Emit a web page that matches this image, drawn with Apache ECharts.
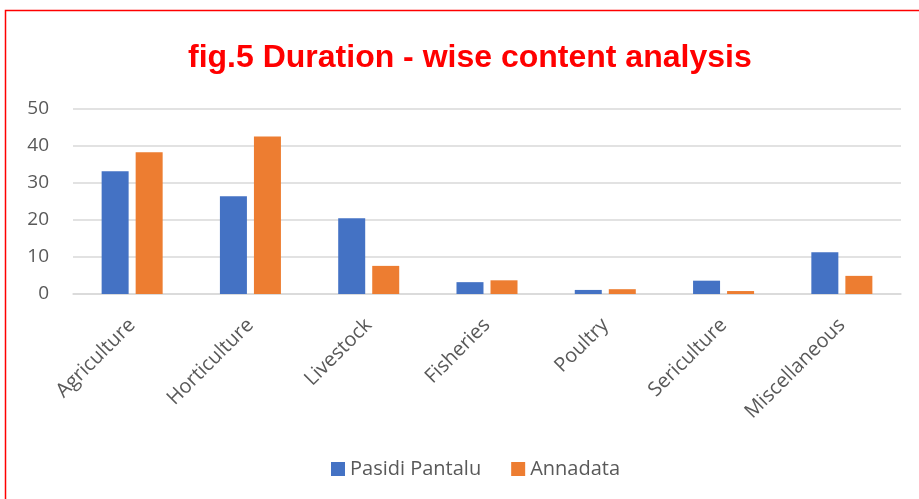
<!DOCTYPE html>
<html>
<head>
<meta charset="utf-8">
<script src="https://cdn.jsdelivr.net/npm/echarts@6/dist/echarts.min.js"></script>
<style>
  html, body { margin: 0; padding: 0; background: #fff; }
  #chart { width: 919px; height: 499px; }
</style>
</head>
<body>
<div id="chart"></div>
<script>
const categories = ['Agriculture', 'Horticulture', 'Livestock', 'Fisheries', 'Poultry', 'Sericulture', 'Miscellaneous'];
const pasidiPantalu = [33.2, 26.4, 20.5, 3.2, 1.1, 3.6, 11.3];
const annadata = [38.3, 42.6, 7.6, 3.7, 1.3, 0.8, 4.9];
const yTicks = { min: 0, max: 50, interval: 10 };

const chart = echarts.init(document.getElementById('chart'));
const labelColor = '#595959';
const font = 'Open Sans';

chart.setOption({
  animation: false,
  color: ['#4472C4', '#ED7D31'],
  graphic: [{
    type: 'rect',
    shape: { x: 5.5, y: 10.5, width: 930, height: 500 },
    style: { fill: 'none', stroke: '#ff0000', lineWidth: 1.5 },
    silent: true
  }],
  title: {
    text: 'fig.5 Duration - wise content analysis',
    left: 183,
    top: 37,
    textStyle: { color: '#ff0000', fontSize: 32, fontWeight: 'bold', fontFamily: 'Liberation Sans' }
  },
  legend: {
    top: 454,
    left: 326,
    itemWidth: 14,
    itemHeight: 14,
    itemGap: 30,
    icon: 'rect',
    textStyle: { color: labelColor, fontSize: 20, fontFamily: font }
  },
  grid: { left: 73, right: 18, top: 109, bottom: 205 },
  xAxis: {
    type: 'category',
    data: categories,
    axisTick: { show: false },
    axisLine: { lineStyle: { color: '#d9d9d9', width: 1.5 } },
    axisLabel: { rotate: 45, color: labelColor, fontSize: 20, fontFamily: font, margin: 28, interval: 0 }
  },
  yAxis: {
    type: 'value',
    min: yTicks.min,
    max: yTicks.max,
    interval: yTicks.interval,
    axisLine: { show: false },
    axisTick: { show: false },
    splitLine: { lineStyle: { color: '#d9d9d9', width: 1.5 } },
    axisLabel: { color: labelColor, fontSize: 19, fontFamily: font, margin: 24 }
  },
  series: [
    { name: 'Pasidi Pantalu', type: 'bar', data: pasidiPantalu, barWidth: 27, barGap: '26%' },
    { name: 'Annadata', type: 'bar', data: annadata, barWidth: 27, barGap: '26%' }
  ]
});
</script>
</body>
</html>
